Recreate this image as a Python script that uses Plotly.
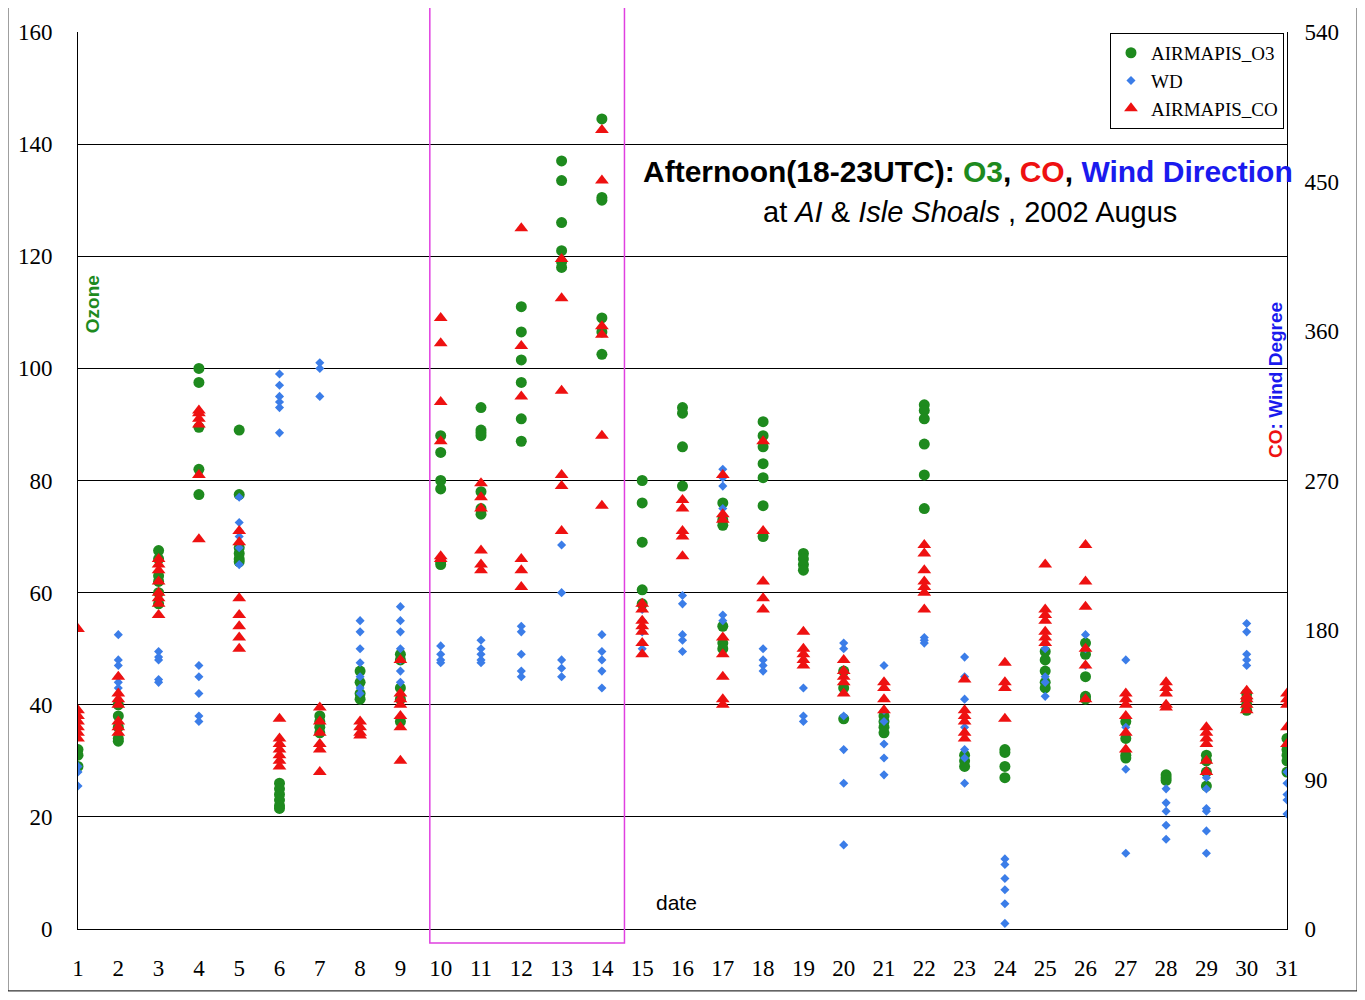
import plotly.graph_objects as go

# per-day readings (left axis units)
o3 = {
    1: [32, 29, 31], 2: [33.5, 34, 36, 38, 40], 3: [67.5, 66, 63, 62, 60, 58],
    4: [100, 97.5, 89.5, 82, 77.5], 5: [89, 77.5, 68, 67, 66, 65.5],
    6: [26, 25, 24, 23, 22, 21.5], 7: [38, 37, 36, 35], 8: [46, 44, 42, 41],
    9: [49, 48, 43, 41, 37], 10: [88, 85, 80, 78.5, 65.5, 65],
    11: [93, 89, 88.5, 88, 78, 75, 74], 12: [111, 106.5, 101.5, 97.5, 91, 87],
    13: [137, 133.5, 126, 121, 119, 118], 14: [144.5, 130.5, 130, 109, 106.5, 102.5],
    15: [80, 76, 69, 60.5, 58], 16: [93, 92, 86, 79], 17: [76, 73, 72, 54, 51, 50],
    18: [90.5, 88, 86, 83, 80.5, 75.5, 70], 19: [67, 66, 65, 64], 20: [46, 43, 37.5],
    21: [38, 37, 36, 35], 22: [93.5, 92.5, 91, 86.5, 81, 75], 23: [31, 30, 29],
    24: [32, 31.5, 29, 27], 25: [49.5, 48, 46, 44, 43], 26: [51, 49, 45, 41.5, 41],
    27: [37, 34, 31, 30.5], 28: [27.5, 27, 26.5], 29: [31, 30, 28, 25.5],
    30: [42, 41, 40, 39], 31: [34, 32, 31, 30, 28],
}
wd = {
    1: [29, 28, 25.5], 2: [52.5, 48, 47, 45, 44, 43], 3: [49.5, 48.5, 48, 44.5, 44],
    4: [47, 45, 42, 38, 37], 5: [77, 72.5, 71, 70, 68, 65], 6: [99, 97, 95, 94, 93, 88.5],
    7: [101, 100, 95], 8: [55, 53, 50, 47.5, 45, 43, 42], 9: [57.5, 55, 53, 50, 48, 46, 44],
    10: [50.5, 49, 48, 47.5], 11: [51.5, 50, 49, 48, 47.5], 12: [54, 53, 49, 46, 45],
    13: [68.5, 60, 48, 46.5, 45], 14: [52.5, 49.5, 48, 46, 43], 15: [57, 55, 53, 50],
    16: [59.5, 58, 52.5, 51.5, 49.5], 17: [82, 80.5, 79, 75, 56, 55], 18: [50, 48, 47, 46],
    19: [43, 38, 37], 20: [51, 50, 38, 32, 26, 15], 21: [47, 44, 39, 37, 33, 30.5, 27.5],
    22: [52, 51.5, 51], 23: [48.5, 45, 41, 36, 32, 30.5, 26], 24: [12.5, 11.5, 9, 7, 4.5, 1],
    25: [50, 45, 44, 41.5], 26: [52.5, 50, 47], 27: [48, 36, 28.5, 13.5],
    28: [25, 22.5, 21, 18.5, 16], 29: [27, 25, 21.5, 21, 17.5, 13.5],
    30: [54.5, 53, 49, 48, 47], 31: [28, 26, 24, 23, 20.5],
}
co = {
    1: [53.5, 39, 38, 37, 36, 35, 34], 2: [45, 42, 41, 40, 37, 36, 35],
    3: [66, 65, 64, 62, 60, 59, 58, 56], 4: [92.5, 92, 91, 90, 81, 69.5],
    5: [71, 69, 59, 56, 54, 52, 50], 6: [37.5, 34, 33, 32, 31, 30, 29],
    7: [39.5, 37, 35, 33, 32, 28], 8: [37, 36, 35, 34.5], 9: [48, 42, 41, 40, 38, 36, 30],
    10: [109, 104.5, 94, 87, 66.5, 66], 11: [79.5, 77, 75, 67.5, 65, 64],
    12: [125, 104, 95, 66, 64, 61], 13: [119.5, 112.5, 96, 81, 79, 71],
    14: [142.5, 133.5, 107.5, 106, 88, 75.5], 15: [58, 57, 55, 54, 53, 51, 49],
    16: [76.5, 75, 71, 70, 66.5], 17: [81, 74, 73, 52, 49, 45, 41, 40],
    18: [87, 71, 62, 59, 57], 19: [53, 50, 49, 48, 47], 20: [48, 46, 45, 44, 42],
    21: [44, 43, 41, 39], 22: [68.5, 67, 64, 62, 61, 60, 57], 23: [44.5, 39, 38, 37, 35, 34],
    24: [47.5, 44, 43, 37.5], 25: [65, 57, 56, 55, 53, 52, 51], 26: [68.5, 62, 57.5, 50, 47, 41],
    27: [42, 41, 40, 38, 35, 32], 28: [44, 43, 42, 40, 39.5], 29: [36, 35, 34, 33, 30, 28],
    30: [42.5, 41.5, 41, 40, 39], 31: [42, 41, 40, 36, 33],
}
days = list(range(1, 32))
left_ticks = [0, 20, 40, 60, 80, 100, 120, 140, 160]
right_ticks = [0, 90, 180, 270, 360, 450, 540]


def flat(d):
    xs, ys = [], []
    for k, vals in d.items():
        xs += [k] * len(vals)
        ys += vals
    return xs, ys


fig = go.Figure()
x, y = flat(o3)
fig.add_trace(go.Scatter(x=x, y=y, mode='markers', name='AIRMAPIS_O3',
                         marker=dict(symbol='circle', size=11, color='#1e8a1e')))
x, y = flat(wd)
fig.add_trace(go.Scatter(x=x, y=y, mode='markers', name='WD',
                         marker=dict(symbol='diamond', size=7, color='#3b7de8')))
x, y = flat(co)
fig.add_trace(go.Scatter(x=x, y=y, mode='markers', name='AIRMAPIS_CO',
                         marker=dict(symbol='triangle-up', size=12, color='#ee1111')))
# dummy trace so the right axis is drawn
fig.add_trace(go.Scatter(x=[1], y=[0], yaxis='y2', mode='markers',
                         marker=dict(opacity=0), showlegend=False, hoverinfo='skip'))

serif = dict(family='Liberation Serif', size=23, color='black')
fig.update_layout(
    width=1365, height=1000,
    margin=dict(l=70, r=86, t=24, b=79),
    paper_bgcolor='white', plot_bgcolor='white',
    xaxis=dict(range=[1, 31], tickvals=days, showgrid=False, zeroline=False,
               showline=True, linecolor='black', tickfont=serif, automargin=False,
               ticks='outside', ticklen=18, tickcolor='white'),
    yaxis=dict(range=[0, 160], tickvals=left_ticks, showgrid=True, gridcolor='black',
               gridwidth=1, zeroline=False, showline=True, linecolor='black',
               tickfont=serif, mirror=True, automargin=False,
               ticks='outside', ticklen=20, tickcolor='white'),
    yaxis2=dict(range=[0, 540], tickvals=right_ticks, overlaying='y', side='right',
                showgrid=False, zeroline=False, tickfont=serif, automargin=False,
                ticks='outside', ticklen=12, tickcolor='white'),
    legend=dict(x=0.9975, y=0.999, xanchor='right', yanchor='top',
                bordercolor='black', borderwidth=1, bgcolor='white', itemwidth=30,
                font=dict(family='Liberation Serif', size=19, color='black')),
    shapes=[
        dict(type='rect', xref='paper', yref='paper', x0=-0.058, x1=1.058,
             y0=-0.069, y1=1.031, line=dict(color='black', width=1)),
        dict(type='rect', xref='paper', yref='paper', x0=0.291, x1=0.452,
             y0=-0.0156, y1=1.028, line=dict(color='#e040e0', width=1.5)),
    ],
    annotations=[
        dict(xref='paper', yref='paper', x=0.736, y=0.844, showarrow=False,
             xanchor='center', yanchor='middle',
             font=dict(family='Liberation Sans', size=30, color='black'),
             text='<b>Afternoon(18-23UTC): <span style="color:#1e8a1e">O3</span>, '
                  '<span style="color:#ee1111">CO</span>, '
                  '<span style="color:#1a1aee">Wind Direction</span></b>'),
        dict(xref='paper', yref='paper', x=0.738, y=0.799, showarrow=False,
             xanchor='center', yanchor='middle',
             font=dict(family='Liberation Sans', size=29, color='black'),
             text='at <i>AI</i> & <i>Isle Shoals</i> , 2002 Augus'),
        dict(xref='paper', yref='paper', x=0.012, y=0.696, showarrow=False, textangle=-90,
             xanchor='center', yanchor='middle',
             font=dict(family='Liberation Sans', size=19, color='#1e8a1e'), text='<b>Ozone</b>'),
        dict(xref='paper', yref='paper', x=0.99, y=0.612, showarrow=False, textangle=-90,
             xanchor='center', yanchor='middle',
             font=dict(family='Liberation Sans', size=19, color='#1a1aee'),
             text='<b><span style="color:#ee1111">CO</span>: Wind Degree</b>'),
        dict(xref='paper', yref='paper', x=0.495, y=0.029, showarrow=False,
             xanchor='center', yanchor='middle',
             font=dict(family='Liberation Sans', size=21, color='black'), text='date'),
    ],
)
fig.write_html("out.html")
